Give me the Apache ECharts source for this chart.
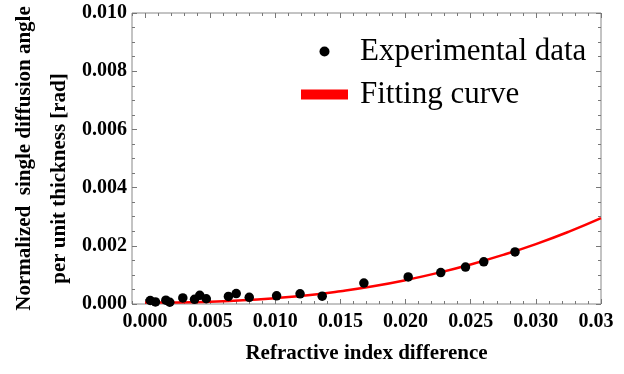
<!DOCTYPE html>
<html>
<head>
<meta charset="utf-8">
<script src="https://cdn.jsdelivr.net/npm/echarts@6/dist/echarts.min.js"></script>
<style>
  html, body { margin: 0; padding: 0; background: #fff; }
  #chart { width: 624px; height: 374px; }
</style>
</head>
<body>
<div id="chart"></div>
<script>
// measured points (refractive index difference, angle per thickness)
const expX = [0.0004, 0.0008, 0.0016, 0.0019, 0.0029, 0.0038, 0.0042, 0.0047,
              0.0064, 0.0070, 0.0080, 0.0101, 0.0119, 0.0136, 0.0168,
              0.0202, 0.0227, 0.0246, 0.0260, 0.0284];
const expY = [0.00012, 0.00007, 0.00013, 0.00006, 0.00021, 0.00016, 0.00030, 0.00018,
              0.00026, 0.00036, 0.00023, 0.00028, 0.00035, 0.00027, 0.00072,
              0.00093, 0.00108, 0.00127, 0.00145, 0.00179];

// fitted curve
const fitX = [0, 0.0025, 0.005, 0.0075, 0.01, 0.0125, 0.015, 0.0175,
              0.02, 0.0225, 0.025, 0.0275, 0.03, 0.0325, 0.035];
const fitY = [0.00005, 0.000055, 0.00008, 0.000125, 0.0002, 0.0003, 0.00044, 0.00061,
              0.00082, 0.00107, 0.00136, 0.00169, 0.00206, 0.00248, 0.00295];

const xTicks = [0, 0.005, 0.01, 0.015, 0.02, 0.025, 0.03, 0.035];
const xMinorTicks = [];
for (let i = -1; i <= 35; i++) xMinorTicks.push(i / 1000);

const serif = 'Liberation Serif';
const labelStyle = { fontFamily: serif, fontWeight: 'bold', fontSize: 20, color: '#000' };

var myChart = echarts.init(document.getElementById('chart'));

function xAxisCfg(pos, major) {
    return {
        type: 'value',
        position: pos,
        min: -0.001,
        max: 0.035,
        axisLine: { show: false, onZero: false },
        splitLine: { show: false },
        axisTick: {
            show: true, inside: true,
            length: major ? 5 : 3,
            customValues: major ? xTicks : xMinorTicks,
            lineStyle: { color: '#777', width: 1 }
        },
        axisLabel: { show: false }
    };
}

const bottomMain = xAxisCfg('bottom', true);
bottomMain.name = 'Refractive index difference';
bottomMain.nameLocation = 'middle';
bottomMain.nameGap = 39;
bottomMain.nameMoveOverlap = false;
bottomMain.nameTextStyle = { fontFamily: serif, fontWeight: 'bold', fontSize: 21, color: '#000' };
bottomMain.axisLabel = {
    show: true,
    customValues: xTicks,
    margin: 8,
    fontFamily: serif, fontWeight: 'bold', fontSize: 20, color: '#000',
    formatter: function (v) {
        if (v > 0.0349) return '{cut|0.03}';
        return v.toFixed(3);
    },
    rich: {
        cut: { fontFamily: serif, fontWeight: 'bold', fontSize: 20, color: '#000', padding: [0, 10, 0, 0] }
    }
};

function yAxisCfg(pos) {
    return {
        type: 'value',
        position: pos,
        min: 0,
        max: 0.010,
        interval: 0.002,
        axisLine: { show: false, onZero: false },
        splitLine: { show: false },
        axisTick: { show: true, inside: true, length: 5, lineStyle: { color: '#777' } },
        minorTick: { show: true, splitNumber: 4, length: 3, lineStyle: { color: '#777' } },
        axisLabel: { show: false }
    };
}

const leftY = yAxisCfg('left');
leftY.axisLabel = Object.assign({ show: true, margin: 5, formatter: v => v.toFixed(3) }, labelStyle);
leftY.name = '{a|Normalized  single diffusion angle}\n{b|per unit thickness [rad]}';
leftY.nameLocation = 'middle';
leftY.nameRotate = 90;
leftY.nameGap = 55;
leftY.nameMoveOverlap = false;
leftY.nameTextStyle = {
    fontFamily: serif, fontWeight: 'bold', fontSize: 21, color: '#000', lineHeight: 35,
    rich: {
        a: { fontFamily: serif, fontWeight: 'bold', fontSize: 21, color: '#000', lineHeight: 35 },
        b: { fontFamily: serif, fontWeight: 'bold', fontSize: 21, color: '#000', lineHeight: 35, padding: [0, 40, 0, 0] }
    }
};

var option = {
    backgroundColor: '#fff',
    animation: false,
    grid: {
        left: 132, right: 23, top: 13, bottom: 70,
        outerBoundsMode: 'none',
        containLabel: false,
        show: true, borderColor: '#888', borderWidth: 1, backgroundColor: 'transparent'
    },
    legend: {
        orient: 'vertical',
        left: 296,
        top: 31,
        itemWidth: 47,
        itemHeight: 10,
        itemGap: 12,
        textStyle: { fontFamily: serif, fontSize: 31, color: '#000', lineHeight: 30, padding: [0, 0, 0, 7] },
        data: [
            { name: 'Experimental data', icon: 'circle', itemStyle: { color: '#000', opacity: 1 } },
            { name: 'Fitting curve', icon: 'rect' }
        ]
    },
    xAxis: [bottomMain, xAxisCfg('bottom', false), xAxisCfg('top', true), xAxisCfg('top', false)],
    yAxis: [leftY, yAxisCfg('right')],
    series: [
        {
            name: 'Fitting curve',
            type: 'line',
            smooth: true,
            showSymbol: false,
            z: 2,
            lineStyle: { color: '#f00', width: 2.5 },
            itemStyle: { color: '#f00' },
            data: fitX.map((x, i) => [x, fitY[i]])
        },
        {
            name: 'Experimental data',
            type: 'scatter',
            symbolSize: 9.5,
            z: 3,
            itemStyle: { color: '#000', opacity: 1 },
            data: expX.map((x, i) => [x, expY[i]])
        }
    ]
};

myChart.setOption(option);
</script>
</body>
</html>
